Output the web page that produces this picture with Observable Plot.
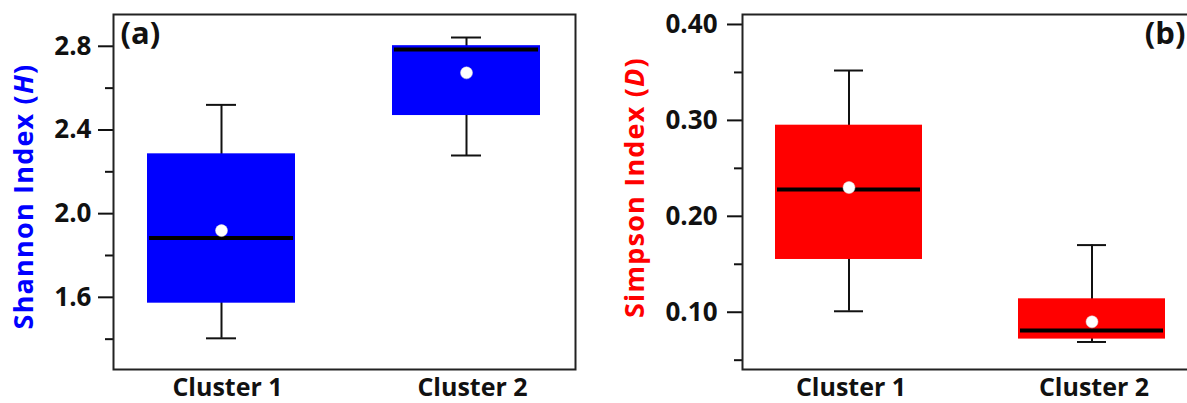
<!DOCTYPE html>
<html>
<head>
<meta charset="utf-8">
<script src="https://cdn.jsdelivr.net/npm/d3@7"></script>
<script src="https://cdn.jsdelivr.net/npm/@observablehq/plot@0.6"></script>
<style>
  html, body { margin: 0; padding: 0; background: #fff; overflow: hidden; }
  #wrap { display: flex; width: 1200px; }
  #wrap svg { flex: none; max-width: none; }
</style>
</head>
<body>
<div id="wrap"></div>
<script>
// ---- data ----
const clusters = ["Cluster 1", "Cluster 2"];

const shannonQ1 = [1.572, 2.469];
const shannonQ3 = [2.286, 2.803];
const shannonMedian = [1.884, 2.785];
const shannonMean = [1.919, 2.673];
const shannonMin = [1.404, 2.278];
const shannonMax = [2.520, 2.842];
const shannonMajorTicks = [1.6, 2.0, 2.4, 2.8];
const shannonMinorTicks = [1.4, 1.8, 2.2, 2.6];
const shannonDomain = [1.255, 2.952];

const simpsonQ1 = [0.155, 0.072];
const simpsonQ3 = [0.295, 0.114];
const simpsonMedian = [0.228, 0.081];
const simpsonMean = [0.230, 0.090];
const simpsonMin = [0.101, 0.069];
const simpsonMax = [0.352, 0.170];
const simpsonMajorTicks = [0.10, 0.20, 0.30, 0.40];
const simpsonMinorTicks = [0.05, 0.15, 0.25, 0.35];
const simpsonDomain = [0.0403, 0.4104];

function rows(q1, q3, med, mean, mn, mx) {
  return clusters.map((c, i) => ({cluster: c, q1: q1[i], q3: q3[i], median: med[i], mean: mean[i], min: mn[i], max: mx[i]}));
}

const FONT = "'Open Sans', sans-serif";

function panel({data, domain, major, minor, fmt, color, marginLeft, marginRight, tickPad, tag, tagRight, xdx}) {
  const marks = [
    Plot.ruleX(data, {x: "cluster", y1: "min", y2: "max", stroke: "#111", strokeWidth: 2}),
    Plot.tickY(data, {x: "cluster", y: "max", stroke: "#111", strokeWidth: 2, insetLeft: 59, insetRight: 59}),
    Plot.tickY(data, {x: "cluster", y: "min", stroke: "#111", strokeWidth: 2, insetLeft: 59, insetRight: 59}),
    Plot.barY(data, {x: "cluster", y1: "q1", y2: "q3", fill: color}),
    Plot.tickY(data, {x: "cluster", y: "median", stroke: "#000", strokeWidth: 4, insetLeft: 2, insetRight: 2}),
    Plot.dot(data, {x: "cluster", y: "mean", r: 6, fill: "#fff", stroke: "#ddd", strokeWidth: 0.5}),
    Plot.axisY(major, {tickSize: 15, tickPadding: tickPad, tickFormat: fmt, fontSize: 26, fontWeight: 700, strokeWidth: 2, stroke: "#111", fill: "#111"}),
    Plot.axisY(minor, {tickSize: 8, text: null, strokeWidth: 2, stroke: "#111"}),
    Plot.axisX({tickSize: 0, tickPadding: 9, fontSize: 25, fontWeight: 700, fill: "#111", dx: xdx}),
    Plot.frame({stroke: "#222", strokeWidth: 2}),
    Plot.text([tag], {
      frameAnchor: tagRight ? "top-right" : "top-left",
      textAnchor: tagRight ? "end" : "start",
      dx: tagRight ? -14 : 7, dy: 7.5,
      fontSize: 31, fontWeight: 700, fill: "#111"
    })
  ];
  return Plot.plot({
    width: 600,
    height: 403,
    marginTop: 14,
    marginBottom: 34,
    marginLeft,
    marginRight,
    style: {fontFamily: FONT, fontWeight: 700, background: "transparent", overflow: "visible", color: "#111"},
    x: {domain: clusters, paddingInner: 0.395, paddingOuter: 0.137, axis: null, label: null},
    y: {domain, axis: null, label: null},
    marks
  });
}

function addTitle(svgNode, x, y, main, ital, color) {
  const t = d3.select(svgNode).append("text")
    .attr("transform", `translate(${x},${y}) rotate(-90)`)
    .attr("text-anchor", "middle")
    .attr("fill", color)
    .style("font-family", FONT)
    .style("font-weight", 700)
    .style("font-size", "27px")
    .style("letter-spacing", "1.2px");
  t.append("tspan").text(main + " (");
  t.append("tspan").attr("font-style", "italic").text(ital);
  t.append("tspan").text(")");
}

const wrap = document.getElementById("wrap");

const a = panel({
  data: rows(shannonQ1, shannonQ3, shannonMedian, shannonMean, shannonMin, shannonMax),
  domain: shannonDomain, major: shannonMajorTicks, minor: shannonMinorTicks,
  fmt: d3.format(".1f"), color: "#0000ff",
  marginLeft: 113, marginRight: 25, tickPad: 7, tag: "(a)", tagRight: false, xdx: 6
});
addTitle(a, 33, 196.5, "Shannon Index", "H", "#0000ff");
wrap.appendChild(a);

const b = panel({
  data: rows(simpsonQ1, simpsonQ3, simpsonMedian, simpsonMean, simpsonMin, simpsonMax),
  domain: simpsonDomain, major: simpsonMajorTicks, minor: simpsonMinorTicks,
  fmt: d3.format(".2f"), color: "#ff0000",
  marginLeft: 142, marginRight: 1, tickPad: 10, tag: "(b)", tagRight: true, xdx: 2
});
addTitle(b, 44, 187.5, "Simpson Index", "D", "#ff0000");
wrap.appendChild(b);
</script>
</body>
</html>
